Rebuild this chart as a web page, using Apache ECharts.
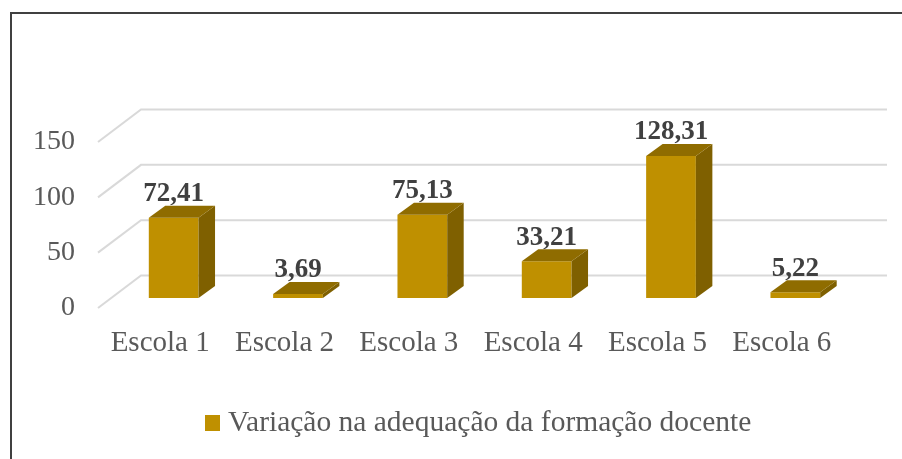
<!DOCTYPE html>
<html>
<head>
<meta charset="utf-8">
<style>
  html, body { margin: 0; padding: 0; background: #fff; }
  #chart { width: 902px; height: 459px; }
</style>
<script src="https://cdn.jsdelivr.net/npm/echarts@6/dist/echarts.min.js"></script>
</head>
<body>
<div id="chart"></div>
<script>
const categories = ['Escola 1', 'Escola 2', 'Escola 3', 'Escola 4', 'Escola 5', 'Escola 6']
const values = [72.41, 3.69, 75.13, 33.21, 128.31, 5.22]
const gridTicks = [0, 50, 100, 150]
const seriesName = 'Variação na adequação da formação docente'

const FONT = '"Liberation Serif", "Times New Roman", serif'
// 3D look: how far the back wall and the bars sit behind the front plane
const WALL_DX = 43
const WALL_DY = -32.5
const BAR_DX = 13.5
const BAR_DY = -10
const DEPTH_X = 16.5
const DEPTH_Y = -12

const chart = echarts.init(document.getElementById('chart'))

chart.setOption({
  animation: false,
  backgroundColor: '#fff',
  grid: { left: 98, top: 142, width: 746, height: 166 },
  legend: {
    data: [seriesName],
    left: 200,
    top: 403,
    icon: 'rect',
    itemWidth: 15,
    itemHeight: 16,
    textStyle: { fontFamily: FONT, fontSize: 29.5, color: '#595959', padding: [0, 0, 0, 3] }
  },
  xAxis: {
    type: 'category',
    data: categories,
    axisLine: { show: false },
    axisTick: { show: false },
    axisLabel: { fontFamily: FONT, fontSize: 29, color: '#595959', margin: 21, interval: 0 }
  },
  yAxis: {
    type: 'value',
    min: 0,
    max: 150,
    interval: 50,
    axisLine: { show: false },
    axisTick: { show: false },
    splitLine: { show: false },
    axisLabel: { fontFamily: FONT, fontSize: 28, color: '#595959', margin: 23 }
  },
  graphic: [
    { type: 'polyline', shape: { points: [[11, 459], [11, 13], [902, 13]] }, style: { stroke: '#404040', lineWidth: 2, fill: null } }
  ],
  series: [
    {
      // side wall + back wall lines
      type: 'custom',
      silent: true,
      data: gridTicks.map(t => [0, t]),
      renderItem(params, api) {
        const y = api.coord([0, api.value(1)])[1]
        const left = params.coordSys.x
        const right = left + params.coordSys.width
        return {
          type: 'polyline',
          shape: { points: [[left, y], [left + WALL_DX, y + WALL_DY], [right + WALL_DX, y + WALL_DY]] },
          style: { stroke: '#D9D9D9', lineWidth: 2, fill: null }
        }
      }
    },
    {
      name: seriesName,
      type: 'custom',
      itemStyle: { color: '#BF9000' },
      data: values.map((v, i) => [i, v]),
      renderItem(params, api) {
        const i = api.value(0)
        const v = api.value(1)
        const w = api.size([1, 0])[0] * 0.4
        const base = api.coord([i, 0])
        const top = api.coord([i, v])
        const x0 = base[0] + BAR_DX - w / 2
        const x1 = x0 + w
        const y0 = base[1] + BAR_DY
        const y1 = top[1] + BAR_DY
        return {
          type: 'group',
          children: [
            { type: 'polygon', shape: { points: [[x0, y0], [x1, y0], [x1, y1], [x0, y1]] }, style: { fill: '#BF9000' } },
            { type: 'polygon', shape: { points: [[x1, y0], [x1 + DEPTH_X, y0 + DEPTH_Y], [x1 + DEPTH_X, y1 + DEPTH_Y], [x1, y1]] }, style: { fill: '#7F6000' } },
            { type: 'polygon', shape: { points: [[x0, y1], [x1, y1], [x1 + DEPTH_X, y1 + DEPTH_Y], [x0 + DEPTH_X, y1 + DEPTH_Y]] }, style: { fill: '#8F6C00' } },
            {
              type: 'text',
              style: {
                x: x0 + w / 2,
                y: y1 + DEPTH_Y + 2,
                text: v.toFixed(2).replace('.', ','),
                align: 'center',
                verticalAlign: 'bottom',
                fontFamily: FONT,
                fontSize: 27,
                fontWeight: 'bold',
                fill: '#404040'
              }
            }
          ]
        }
      }
    }
  ]
})
</script>
</body>
</html>
